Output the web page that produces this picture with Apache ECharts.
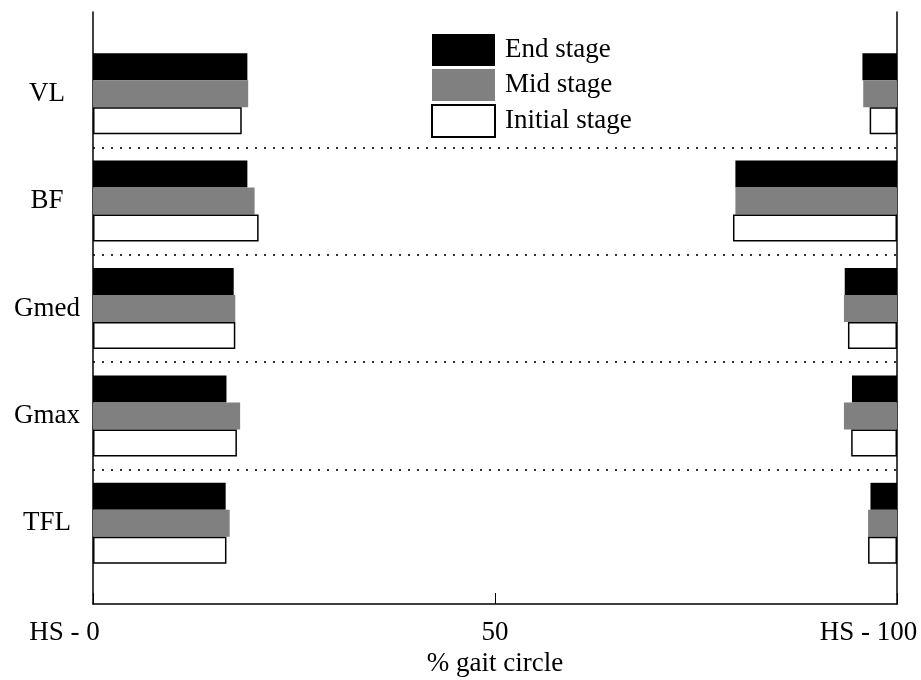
<!DOCTYPE html>
<html>
<head>
<meta charset="utf-8">
<script src="https://cdn.jsdelivr.net/npm/echarts@6/dist/echarts.min.js"></script>
<style>
  html, body { margin: 0; padding: 0; background: #fff; }
  #chart { width: 921px; height: 680px; }
</style>
</head>
<body>
<div id="chart"></div>
<script>
var myChart = echarts.init(document.getElementById("chart"));

const muscles = ["VL", "BF", "Gmed", "Gmax", "TFL"];
const stageNames = ["End stage", "Mid stage", "Initial stage"];
// % gait circle where activity ends after HS - 0
const endStageOff = [19.2, 19.2, 17.5, 16.6, 16.5];
const midStageOff = [19.3, 20.1, 17.7, 18.3, 17.0];
const initStageOff = [18.5, 20.6, 17.7, 17.9, 16.6];
// % gait circle where activity starts again before HS - 100
const endStageOn = [95.7, 79.9, 93.5, 94.4, 96.7];
const midStageOn = [95.8, 79.9, 93.4, 93.4, 96.4];
const initStageOn = [96.6, 79.6, 93.9, 94.3, 96.4];
const xTicks = { 0: "HS - 0", 50: "50", 100: "HS - 100" };

const font = "Liberation Serif";
const styles = [
  { color: "#000000", borderWidth: 0 },
  { color: "#808080", borderWidth: 0 },
  { color: "#ffffff", borderColor: "#000000", borderWidth: 1.5 },
];
const offs = [endStageOff, midStageOff, initStageOff];
const ons = [endStageOn, midStageOn, initStageOn];

const series = [];
stageNames.forEach(function (name, i) {
  const stack = "s" + i;
  series.push({
    name: name,
    type: "bar",
    stack: stack,
    xAxisIndex: 1,
    yAxisIndex: 0,
    barWidth: 27,
    barGap: "0%",
    itemStyle: styles[i],
    emphasis: { disabled: true },
    data: offs[i],
  });
  series.push({
    name: "gap" + i,
    type: "bar",
    stack: stack,
    xAxisIndex: 1,
    yAxisIndex: 0,
    barWidth: 27,
    barGap: "0%",
    itemStyle: { color: "transparent" },
    emphasis: { disabled: true },
    data: ons[i].map(function (v, k) { return v - offs[i][k]; }),
  });
  series.push({
    name: name,
    type: "bar",
    stack: stack,
    xAxisIndex: 1,
    yAxisIndex: 0,
    barWidth: 27,
    barGap: "0%",
    itemStyle: styles[i],
    emphasis: { disabled: true },
    data: ons[i].map(function (v) { return 100 - v; }),
  });
});

const option = {
  backgroundColor: "#fff",
  animation: false,
  textStyle: { fontFamily: font, color: "#000" },
  legend: {
    data: stageNames,
    orient: "vertical",
    left: 426,
    top: 29,
    itemWidth: 63,
    itemHeight: 32,
    itemGap: 3,
    icon: "rect",
    selectedMode: false,
    textStyle: { fontFamily: font, fontSize: 27, color: "#000", padding: [0, 0, 0, 5] },
  },
  grid: [
    // bars
    { left: 93, right: 24, top: 40, bottom: 103, outerBoundsMode: "none" },
    // frame
    { left: 93, right: 24, top: 12, bottom: 76, outerBoundsMode: "none" },
  ],
  xAxis: [
    {
      gridIndex: 1,
      type: "value",
      min: 0,
      max: 100,
      interval: 50,
      axisLine: { show: true, lineStyle: { color: "#000", width: 1.5 } },
      axisTick: { show: true, inside: true, length: 11, lineStyle: { color: "#000", width: 1 } },
      splitLine: { show: false },
      axisLabel: {
        margin: 15,
        showMinLabel: true,
        showMaxLabel: true,
        fontFamily: font,
        fontSize: 27,
        color: "#000",
        formatter: function (v) {
          const t = xTicks[v];
          if (v === 0) return "{p|HS - }0{q|\u00a0}";
          if (v === 100) return "{p|HS - }100{q|\u00a0}";
          return t;
        },
        rich: {
          p: { fontFamily: font, fontSize: 27, color: "#000" },
          q: { fontFamily: font, fontSize: 27, width: 57 },
        },
      },
      name: "% gait circle",
      nameLocation: "middle",
      nameGap: 46,
      nameTextStyle: { fontFamily: font, fontSize: 27, color: "#000" },
    },
    {
      gridIndex: 0,
      type: "value",
      min: 0,
      max: 100,
      show: false,
    },
  ],
  yAxis: [
    {
      gridIndex: 0,
      type: "category",
      data: muscles,
      inverse: true,
      axisLine: { show: false },
      axisTick: { show: false },
      axisLabel: {
        margin: 46,
        align: "center",
        fontFamily: font,
        fontSize: 27,
        color: "#000",
      },
      splitLine: {
        show: true,
        showMinLine: false,
        showMaxLine: false,
        lineStyle: { color: "#333", width: 2, type: [2, 7] },
      },
    },
    {
      gridIndex: 1,
      type: "value",
      min: 0,
      max: 1,
      position: "left",
      axisLine: { show: true, lineStyle: { color: "#000", width: 1.5 } },
      axisTick: { show: false },
      axisLabel: { show: false },
      splitLine: { show: false },
    },
    {
      gridIndex: 1,
      type: "value",
      min: 0,
      max: 1,
      position: "right",
      axisLine: { show: true, lineStyle: { color: "#000", width: 1.5 } },
      axisTick: { show: false },
      axisLabel: { show: false },
      splitLine: { show: false },
    },
  ],
  series: series,
};

myChart.setOption(option);
</script>
</body>
</html>
